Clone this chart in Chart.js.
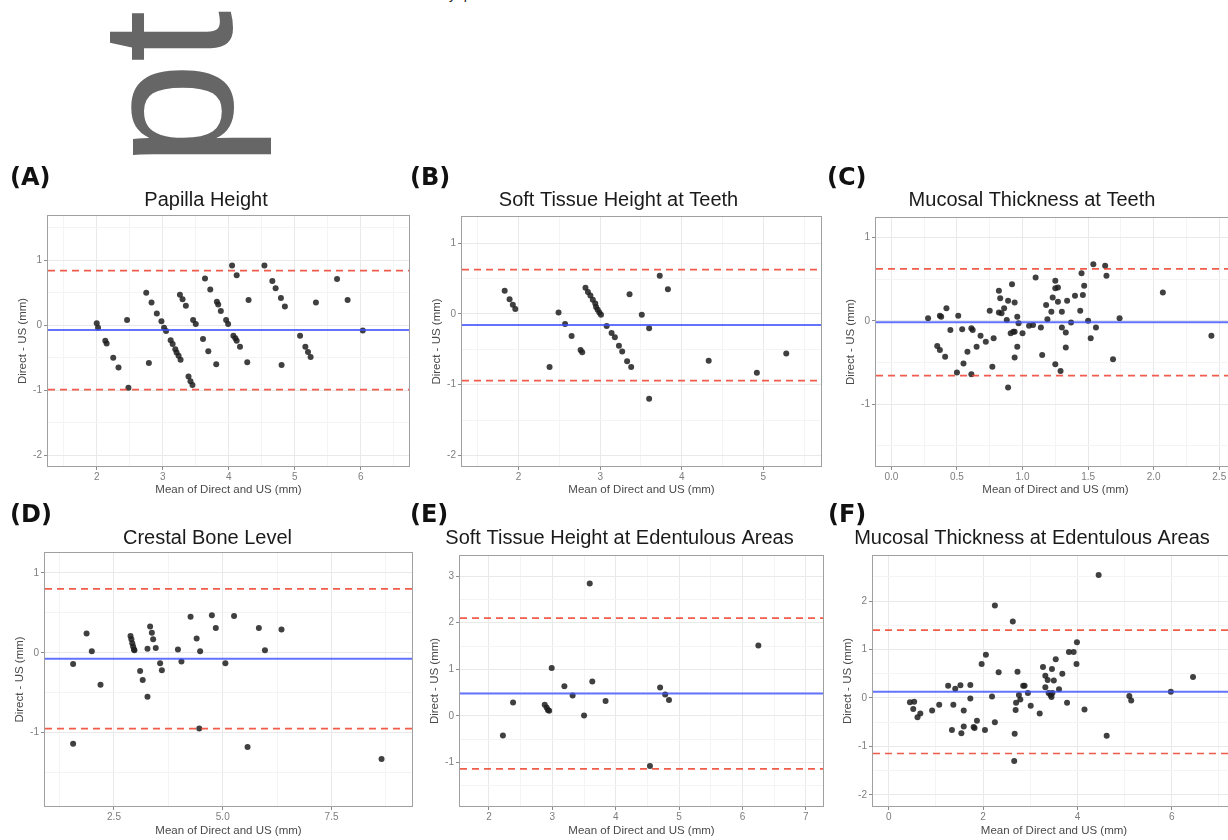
<!DOCTYPE html>
<html>
<head>
<meta charset="utf-8">
<script src="https://cdn.jsdelivr.net/npm/chart.js"></script>
<style>
  html, body { margin: 0; padding: 0; background: #fff; overflow: hidden; }
  body { width: 1228px; height: 840px; position: relative; font-family: 'Liberation Sans', Arial, sans-serif; }
  canvas { position: absolute; }
  .tag { position: absolute; font: bold 24px 'DejaVu Sans', sans-serif; line-height: 24px; color: #111; z-index: 2; }
  .stray { position: absolute; left: 73px; top: 167px; font: 188px 'Liberation Sans', Arial, sans-serif; line-height: 188px;
           color: #666; transform-origin: 0 0; transform: rotate(-90deg); white-space: nowrap; }
  .cut { position: absolute; left: 449px; top: -13px; font: 14px 'Liberation Sans', Arial, sans-serif; line-height: 14px; color: #222; white-space: pre; }
</style>
</head>
<body>
<div class="cut">y  p</div>
<div class="stray">pt</div>
<div class="tag" style="left:10px;top:165px">(A)</div>
<div class="tag" style="left:410px;top:165px">(B)</div>
<div class="tag" style="left:827px;top:165px">(C)</div>
<div class="tag" style="left:10px;top:502px">(D)</div>
<div class="tag" style="left:410px;top:502px">(E)</div>
<div class="tag" style="left:828px;top:502px">(F)</div>

<script>
// ---- data: [mean of direct and US, direct - US] ----
const papillaPoints = [
  [2.00,0.03],[2.02,-0.04],[2.13,-0.24],[2.15,-0.28],[2.25,-0.50],[2.33,-0.65],[2.46,0.08],[2.48,-0.96],
  [2.75,0.50],[2.79,-0.58],[2.83,0.35],[2.91,0.18],[2.98,0.06],[3.02,-0.04],[3.05,-0.09],[3.12,-0.23],
  [3.15,-0.29],[3.19,-0.37],[3.21,-0.42],[3.24,-0.47],[3.27,-0.53],[3.26,0.47],[3.30,0.40],[3.35,0.30],
  [3.39,-0.79],[3.42,-0.86],[3.45,-0.92],[3.46,0.08],[3.50,0.02],[3.61,-0.21],[3.69,-0.40],[3.64,0.72],
  [3.72,0.55],[3.82,0.36],[3.84,0.32],[3.88,0.22],[3.96,0.08],[3.99,0.02],[3.81,-0.60],[4.05,0.92],
  [4.12,0.77],[4.07,-0.16],[4.10,-0.20],[4.12,-0.24],[4.17,-0.33],[4.28,-0.57],[4.30,0.39],[4.54,0.92],
  [4.66,0.68],[4.71,0.57],[4.79,0.42],[4.85,0.29],[4.80,-0.61],[5.08,-0.16],[5.16,-0.33],[5.20,-0.41],
  [5.24,-0.49],[5.32,0.35],[5.64,0.71],[5.80,0.39],[6.03,-0.08]
];
const papillaLimits = [-0.075, 0.84, -0.99]; // bias, upper, lower

const softTeethPoints = [
  [1.83,0.33],[1.89,0.21],[1.93,0.13],[1.96,0.07],[2.38,-0.75],[2.49,0.02],[2.57,-0.14],[2.65,-0.31],
  [2.76,-0.51],[2.78,-0.54],[2.82,0.37],[2.85,0.31],[2.88,0.26],[2.91,0.20],[2.94,0.15],[2.95,0.10],
  [2.97,0.06],[2.99,0.02],[3.01,-0.01],[3.08,-0.17],[3.14,-0.27],[3.18,-0.33],[3.23,-0.45],[3.27,-0.53],
  [3.33,-0.67],[3.38,-0.75],[3.36,0.28],[3.51,-0.01],[3.60,-0.20],[3.60,-1.20],[3.73,0.54],[3.83,0.35],
  [4.33,-0.66],[4.92,-0.83],[5.28,-0.56]
];
const softTeethLimits = [-0.157, 0.627, -0.943];

const mucosaTeethPoints = [
  [0.28,0.03],[0.35,-0.30],[0.37,0.06],[0.38,0.05],[0.37,-0.35],[0.41,-0.43],[0.42,0.15],[0.45,-0.11],
  [0.50,-0.62],[0.51,0.06],[0.54,-0.10],[0.55,-0.51],[0.58,-0.37],[0.61,-0.09],[0.62,-0.11],[0.61,-0.64],
  [0.65,-0.31],[0.68,-0.18],[0.72,-0.25],[0.75,0.12],[0.77,-0.55],[0.78,-0.21],[0.82,0.36],[0.83,0.27],
  [0.82,0.10],[0.84,0.09],[0.86,0.15],[0.88,0.01],[0.89,0.24],[0.89,-0.80],[0.91,-0.15],[0.92,0.44],
  [0.93,-0.13],[0.94,0.22],[0.94,-0.13],[0.94,-0.44],[0.96,0.05],[0.96,-0.31],[0.97,-0.03],[1.00,-0.15],
  [1.05,-0.06],[1.08,-0.05],[1.10,0.52],[1.14,-0.08],[1.15,-0.41],[1.18,0.19],[1.19,0.02],[1.22,0.11],
  [1.23,0.28],[1.25,0.48],[1.25,0.39],[1.27,0.40],[1.27,0.23],[1.25,-0.52],[1.29,-0.60],[1.30,-0.08],
  [1.30,0.11],[1.33,-0.14],[1.33,-0.32],[1.34,0.24],[1.37,-0.02],[1.40,0.30],[1.44,0.12],[1.45,0.57],
  [1.47,0.42],[1.46,0.31],[1.50,0.00],[1.52,-0.21],[1.54,0.68],[1.56,-0.08],[1.63,0.66],[1.64,0.54],
  [1.69,-0.46],[1.74,0.03],[2.07,0.34],[2.44,-0.18]
];
const mucosaTeethLimits = [-0.016, 0.624, -0.656];

const crestalPoints = [
  [1.56,-0.14],[1.56,-1.14],[1.87,0.24],[1.99,0.02],[2.19,-0.40],[2.88,0.21],[2.90,0.17],[2.92,0.12],
  [2.94,0.08],[2.96,0.04],[2.97,0.03],[3.10,-0.23],[3.16,-0.34],[3.27,0.05],[3.27,-0.55],[3.33,0.33],
  [3.37,0.25],[3.40,0.17],[3.46,0.06],[3.56,-0.13],[3.60,-0.22],[3.97,0.04],[4.05,-0.11],[4.26,0.45],
  [4.40,0.18],[4.48,0.02],[4.46,-0.95],[4.75,0.47],[4.84,0.31],[5.06,-0.13],[5.26,0.46],[5.57,-1.18],
  [5.83,0.31],[5.97,0.03],[6.35,0.29],[8.65,-1.33]
];
const crestalLimits = [-0.075, 0.80, -0.95];

const softEdentPoints = [
  [2.22,-0.42],[2.38,0.29],[2.88,0.24],[2.91,0.18],[2.93,0.13],[2.95,0.11],[2.99,1.03],[3.19,0.64],
  [3.32,0.44],[3.50,0.01],[3.59,2.84],[3.63,0.74],[3.84,0.32],[4.54,-1.07],[4.70,0.61],[4.78,0.46],
  [4.84,0.34],[6.25,1.51]
];
const softEdentLimits = [0.482, 2.10, -1.136];

const mucosaEdentPoints = [
  [0.45,-0.09],[0.54,-0.08],[0.52,-0.23],[0.61,-0.40],[0.67,-0.32],[0.92,-0.26],[1.07,-0.14],[1.26,0.25],
  [1.34,-0.66],[1.37,-0.14],[1.41,0.19],[1.52,0.26],[1.54,-0.73],[1.59,-0.26],[1.59,-0.59],[1.73,-0.01],
  [1.73,0.27],[1.80,-0.60],[1.82,-0.62],[1.87,-0.47],[1.97,0.70],[2.04,-0.66],[2.06,0.89],[2.19,0.03],
  [2.25,1.91],[2.25,-0.50],[2.33,0.53],[2.63,1.58],[2.67,-0.74],[2.66,-1.30],[2.69,-0.25],[2.70,-0.10],
  [2.73,0.54],[2.76,0.06],[2.79,-0.03],[2.85,0.25],[2.88,0.25],[2.95,0.10],[3.01,-0.16],[3.20,-0.32],
  [3.27,0.64],[3.32,0.22],[3.32,0.46],[3.37,0.37],[3.39,0.10],[3.43,0.06],[3.45,0.02],[3.46,0.60],
  [3.47,0.10],[3.50,0.36],[3.54,0.80],[3.61,0.18],[3.68,0.50],[3.78,-0.10],[3.82,0.95],[3.92,0.95],
  [3.98,0.70],[3.99,1.15],[4.15,-0.24],[4.45,2.54],[4.62,-0.78],[5.10,0.04],[5.14,-0.05],[5.98,0.13],
  [6.45,0.43]
];
const mucosaEdentLimits = [0.127, 1.40, -1.146];

// ---- tick values and labels ----
const xTicksA = [2, 3, 4, 5, 6];           const xLabelsA = ['2', '3', '4', '5', '6'];
const xTicksB = [2, 3, 4, 5];              const xLabelsB = ['2', '3', '4', '5'];
const xTicksC = [0, 0.5, 1, 1.5, 2, 2.5];  const xLabelsC = ['0.0', '0.5', '1.0', '1.5', '2.0', '2.5'];
const xTicksD = [2.5, 5, 7.5];             const xLabelsD = ['2.5', '5.0', '7.5'];
const xTicksE = [2, 3, 4, 5, 6, 7];        const xLabelsE = ['2', '3', '4', '5', '6', '7'];
const xTicksF = [0, 2, 4, 6];              const xLabelsF = ['0', '2', '4', '6'];
const yTicksA = [-2, -1, 0, 1];            const yLabelsA = ['-2', '-1', '0', '1'];
const yTicksC = [-1, 0, 1];                const yLabelsC = ['-1', '0', '1'];
const yTicksE = [-1, 0, 1, 2, 3];          const yLabelsE = ['-1', '0', '1', '2', '3'];
const yTicksF = [-2, -1, 0, 1, 2];         const yLabelsF = ['-2', '-1', '0', '1', '2'];

const titles = ['Papilla Height', 'Soft Tissue Height at Teeth', 'Mucosal Thickness at Teeth',
  'Crestal Bone Level', 'Soft Tissue Height at Edentulous Areas', 'Mucosal Thickness at Edentulous Areas'];
const xAxisTitle = 'Mean of Direct and US (mm)';
const yAxisTitle = 'Direct - US (mm)';

// ---- panel layout ----
const panels = [
  { title: titles[0], pts: papillaPoints, lim: papillaLimits, x: [1.262, 6.73], y: [-2.165, 1.68],
    xt: xTicksA, xl: xLabelsA, xm: [1.5, 2.5, 3.5, 4.5, 5.5, 6.5], yt: yTicksA, yl: yLabelsA, ym: [-1.5, -0.5, 0.5, 1.5],
    left: 3, top: 160, h: 340, yw: 45, padTop: 56, padRight: 6, base: 47.5, xtp: 3 },
  { title: titles[1], pts: softTeethPoints, lim: softTeethLimits, x: [1.307, 5.706], y: [-2.15, 1.372],
    xt: xTicksB, xl: xLabelsB, xm: [1.5, 2.5, 3.5, 4.5, 5.5], yt: yTicksA, yl: yLabelsA, ym: [-1.5, -0.5, 0.5],
    left: 416, top: 160, h: 340, yw: 46, padTop: 57, padRight: 7, base: 47.5, xtp: 3 },
  { title: titles[2], pts: mucosaTeethPoints, lim: mucosaTeethLimits, x: [-0.117, 2.62], y: [-1.74, 1.233],
    xt: xTicksC, xl: xLabelsC, xm: [0.25, 0.75, 1.25, 1.75, 2.25], yt: yTicksC, yl: yLabelsC, ym: [-1.5, -0.5, 0.5],
    left: 829, top: 160, h: 340, yw: 47, padTop: 58, padRight: 6, base: 47.5, xtp: 3 },
  { title: titles[3], pts: crestalPoints, lim: crestalLimits, x: [0.914, 9.35], y: [-1.92, 1.25],
    xt: xTicksD, xl: xLabelsD, xm: [1.25, 3.75, 6.25, 8.75], yt: yTicksC, yl: yLabelsC, ym: [-1.5, -0.5, 0.5],
    left: 3, top: 497, h: 343, yw: 42, padTop: 56, padRight: 3, base: 48, xtp: 2.2 },
  { title: titles[4], pts: softEdentPoints, lim: softEdentLimits, x: [1.543, 7.27], y: [-1.93, 3.43],
    xt: xTicksE, xl: xLabelsE, xm: [2.5, 3.5, 4.5, 5.5, 6.5], yt: yTicksE, yl: yLabelsE, ym: [-1.5, -0.5, 0.5, 1.5, 2.5],
    left: 416, top: 497, h: 343, yw: 44, padTop: 59, padRight: 5, base: 48, xtp: 2.2 },
  { title: titles[5], pts: mucosaEdentPoints, lim: mucosaEdentLimits, x: [-0.333, 7.34], y: [-2.23, 2.93],
    xt: xTicksF, xl: xLabelsF, xm: [1, 3, 5, 7], yt: yTicksF, yl: yLabelsF, ym: [-1.5, -0.5, 0.5, 1.5, 2.5],
    left: 829, top: 497, h: 343, yw: 44, padTop: 59, padRight: 6, base: 48, xtp: 2.2 }
];

const FONT = "'Liberation Sans', Arial, sans-serif";

// mean line, limits of agreement and the panel frame
const blandLines = {
  id: 'blandLines',
  afterDatasetsDraw(chart) {
    const opts = chart.options.plugins.blandLines;
    const { ctx, chartArea: a, scales: { y } } = chart;
    ctx.save();
    ctx.beginPath();
    ctx.rect(a.left, a.top, a.right - a.left, a.bottom - a.top);
    ctx.clip();
    const hline = (v, color, width, dash) => {
      const py = y.getPixelForValue(v);
      ctx.strokeStyle = color;
      ctx.lineWidth = width;
      ctx.setLineDash(dash);
      ctx.beginPath();
      ctx.moveTo(a.left, py);
      ctx.lineTo(a.right, py);
      ctx.stroke();
    };
    hline(opts.upper, 'rgba(238,64,44,0.85)', 1.7, [7, 5]);
    hline(opts.lower, 'rgba(238,64,44,0.85)', 1.7, [7, 5]);
    hline(opts.bias, 'rgba(60,80,255,0.8)', 2, []);
    ctx.restore();

    ctx.save();
    ctx.strokeStyle = '#a0a0a0';
    ctx.lineWidth = 1;
    ctx.strokeRect(Math.round(a.left) - 0.5, Math.round(a.top) - 0.5,
      Math.round(a.right - a.left) + 1, Math.round(a.bottom - a.top) + 1);
    ctx.restore();
  }
};

function axis(range, majors, labels, minors, size, isY, text, titlePad) {
  const all = majors.concat(minors);
  const isMajor = (ctx) => ctx.tick && majors.includes(ctx.tick.value);
  return {
    type: 'linear',
    min: range[0],
    max: range[1],
    afterBuildTicks: (s) => { s.ticks = all.map(v => ({ value: v })); },
    afterFit: (s) => { if (isY) s.width = size; else s.height = size; },
    border: { display: false },
    grid: {
      color: (ctx) => isMajor(ctx) ? '#e9e9e9' : '#f4f4f4',
      lineWidth: 1,
      tickLength: 4,
      tickColor: (ctx) => isMajor(ctx) ? '#8c8c8c' : 'rgba(0,0,0,0)'
    },
    ticks: {
      autoSkip: false,
      maxRotation: 0,
      minRotation: 0,
      padding: isY ? 2 : 1,
      color: '#7d7d7d',
      font: { family: FONT, size: 10 },
      callback: (v) => {
        const i = majors.indexOf(v);
        return i >= 0 ? labels[i] : '';
      }
    },
    title: {
      display: true,
      text: text,
      color: '#4a4a4a',
      font: { family: FONT, size: 11.5 },
      padding: titlePad
    }
  };
}

panels.forEach((p) => {
  const cv = document.createElement('canvas');
  cv.width = 412;
  cv.height = p.h;
  cv.style.left = p.left + 'px';
  cv.style.top = p.top + 'px';
  document.body.appendChild(cv);

  const titleTop = p.base - 6.9 - 12;
  const titleBottom = p.padTop - 24 - titleTop;

  new Chart(cv, {
    type: 'scatter',
    data: {
      datasets: [{
        data: p.pts.map(([x, y]) => ({ x: x, y: y })),
        pointRadius: 3,
        pointHoverRadius: 3,
        pointBackgroundColor: 'rgba(30,30,30,0.85)',
        pointBorderWidth: 0
      }]
    },
    options: {
      responsive: false,
      animation: false,
      devicePixelRatio: 1,
      events: [],
      layout: { padding: { top: 0, right: p.padRight, bottom: 0, left: 0 } },
      plugins: {
        legend: { display: false },
        tooltip: { enabled: false },
        title: {
          display: true,
          text: p.title,
          color: '#1a1a1a',
          font: { family: FONT, size: 20, weight: 'normal' },
          padding: { top: titleTop, bottom: titleBottom }
        },
        blandLines: { bias: p.lim[0], upper: p.lim[1], lower: p.lim[2] }
      },
      scales: {
        x: axis(p.x, p.xt, p.xl, p.xm, 34, false, xAxisTitle, { top: 0, bottom: p.xtp }),
        y: axis(p.y, p.yt, p.yl, p.ym, p.yw, true, yAxisTitle, { top: p.yw - 25 - 6.9, bottom: 0 })
      }
    },
    plugins: [blandLines]
  });
});
</script>
</body>
</html>
